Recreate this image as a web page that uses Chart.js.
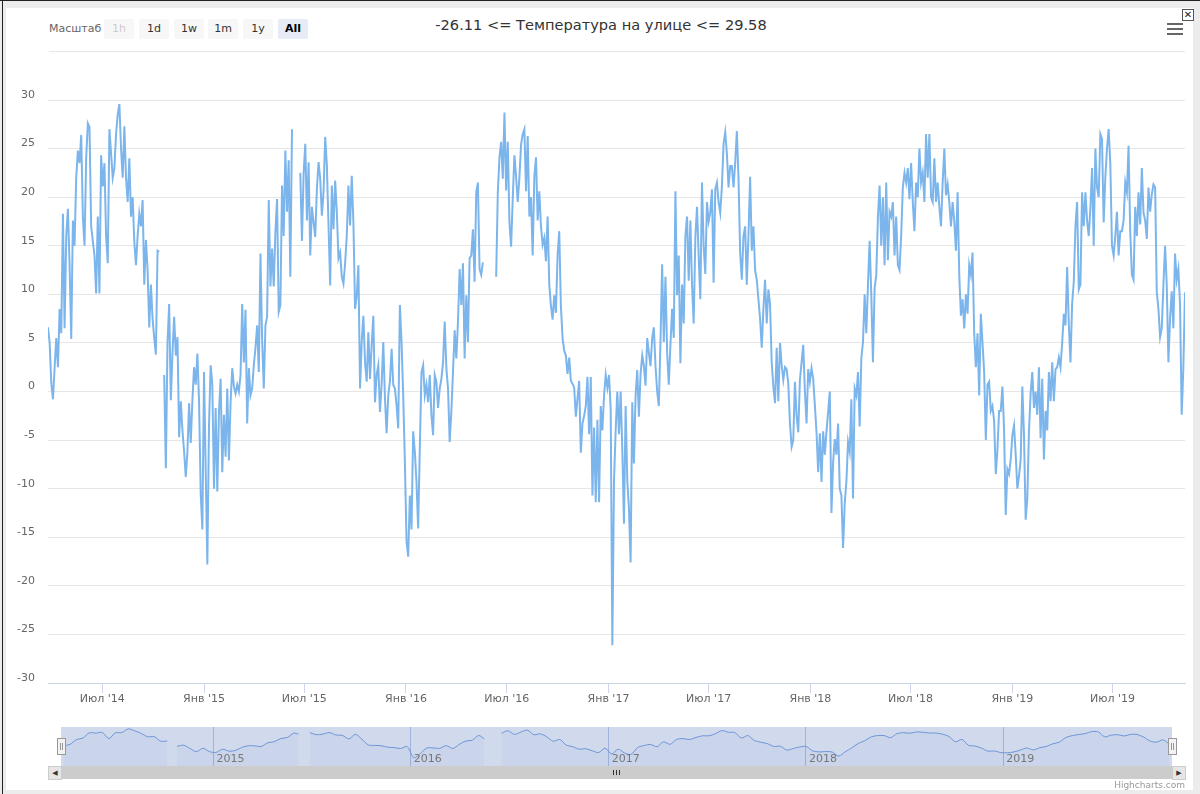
<!DOCTYPE html>
<html>
<head>
<meta charset="utf-8">
<script src="https://cdn.jsdelivr.net/npm/chart.js@4.4.1/dist/chart.umd.min.js"></script>
<style>
html, body { margin: 0; padding: 0; }
body { width: 1200px; height: 794px; background: #ececec; position: relative; overflow: hidden;
       font-family: "DejaVu Sans", Verdana, sans-serif; }
.abs { position: absolute; }
#topline { left: 0; top: 0; width: 1200px; height: 1px; background: #222; }
#leftline { left: 2px; top: 0; width: 1px; height: 794px; background: #222; }
#panel { left: 6px; top: 8px; width: 1187px; height: 782px; background: #fff; }
#zoomLabel { left: 49px; top: 22px; font-size: 11px; color: #666; }
.btn { top: 19px; width: 30px; height: 20px; line-height: 20px; text-align: center; font-size: 11px;
       background: #f7f7f7; color: #333; border-radius: 2px; }
.btn.off { color: #cccccc; }
.btn.on { background: #e6ebf5; color: #000; font-weight: bold; }
#title { left: 300px; width: 602px; top: 16px; text-align: center; font-size: 14.6px; color: #333; }
#sep { left: 49px; top: 51px; width: 1136px; height: 1px; background: #e6e6e6; }
.bar { left: 1167px; width: 16px; height: 2px; background: #666; }
#close { left: 1182px; top: 9px; width: 10px; height: 10px; border: 1px solid #555; background: #fff;
         font-size: 10px; line-height: 10px; text-align: center; color: #222; }
#mainWrap { left: 0; top: 60px; width: 1200px; height: 660px; }
#navWrap { left: 61px; top: 727px; width: 1111px; height: 39px; }
#track { left: 48px; top: 766px; width: 1137px; height: 13px; background: #f2f2f2; }
#thumb { left: 61px; top: 766px; width: 1111px; height: 13px; background: #cccccc; }
.sbtn { top: 766px; width: 12px; height: 12px; background: #e6e6e6; border: 1px solid #cccccc;
        font-size: 7px; line-height: 12px; text-align: center; color: #333; }
.rifle { top: 770px; width: 1px; height: 5px; background: #333; }
.handle { top: 738px; width: 7px; height: 15px; background: #f2f2f2; border: 1px solid #999; }
.handle i { position: absolute; top: 4px; width: 1px; height: 7px; background: #999; }
#credit { right: 15px; top: 780px; font-size: 9px; color: #999; }
</style>
</head>
<body>
<div class="abs" id="topline"></div>
<div class="abs" id="leftline"></div>
<div class="abs" id="panel"></div>
<div class="abs" id="zoomLabel">Масштаб</div>
<div class="abs btn off" style="left:104px">1h</div>
<div class="abs btn" style="left:139px">1d</div>
<div class="abs btn" style="left:174px">1w</div>
<div class="abs btn" style="left:208px">1m</div>
<div class="abs btn" style="left:243px">1y</div>
<div class="abs btn on" style="left:278px">All</div>
<div class="abs" id="title"></div>
<div class="abs" id="sep"></div>
<div class="abs bar" style="top:23px"></div>
<div class="abs bar" style="top:28px"></div>
<div class="abs bar" style="top:33px"></div>
<div class="abs" id="close">✕</div>
<div class="abs" id="mainWrap"><canvas id="grafico"></canvas></div>
<div class="abs" id="navWrap"><canvas id="navigator"></canvas></div>
<div class="abs" id="track"></div>
<div class="abs" id="thumb"></div>
<div class="abs sbtn" style="left:48px">◀</div>
<div class="abs sbtn" style="left:1172px">▶</div>
<div class="abs rifle" style="left:613px"></div>
<div class="abs rifle" style="left:616px"></div>
<div class="abs rifle" style="left:619px"></div>
<div class="abs handle" style="left:57px"><i style="left:2px"></i><i style="left:4px"></i></div>
<div class="abs handle" style="left:1168px"><i style="left:2px"></i><i style="left:4px"></i></div>
<div class="abs" id="credit">Highcharts.com</div>

<script>
// первая точка ряда - 25 марта 2014, шаг 3 дня, null = нет данных
const START = Date.UTC(2014, 2, 25);
const STEP_DAYS = 3;

const temps2014 = [6.6, 5, 0.8, -0.8, 2.5, 5.5, 2.5, 8.5, 6, 18.3, 6.5, 16, 18.8, 13, 5.4, 17.6, 15, 22, 24.8, 23.5,
  26.4, 18, 15, 24, 27.6, 27.2, 17, 15.5, 14, 10.1, 18, 10.1, 24.3, 21.1, 23.5, 16, 13.2, 27, 24.5, 22,
  23, 26.5, 28.5, 29.58, 25, 22, 27.3, 22, 19.5, 24, 18, 20, 15.4, 13, 16, 18.3, 17, 19.7, 11, 15.6,
  12.5, 6.6, 11, 7.5, 5.5, 3.8, 14.5, 14.4, null, null, 1.7, -7.9, 5, 9, -0.9, 4, 7.7, 3.7, 5.6, -4.7,
  -1, -4, -6.2, -8.8, -6.2, -1.2, -5.3, -0.9, 2.5, 0.7, 3.9, -1, -10.5, -14.2];

const temps2015 = [2, -8, -17.8, -3.5, 2.7, 0.7, -10, -1.7, -10.3, -2.1, 1.3, -8.3, -2.4, -6.7, 0.3, -7.1, -1.1, 2.4, 0.5, -0.2,
  0.7, 0, 1.7, 9, 3, 8.4, -3.3, 2.4, -0.4, 0.3, 2.7, 4.5, 6.8, 2, 14.2, 5.4, 0.3, 6.8, 7.7, 19.7,
  10.8, 14.7, 10.8, 16.4, 19.8, 8.2, 8.9, 21.2, 16, 24.8, 18.5, 23.8, 11.8, 27, null, null, null, null, 22.5, 15.5,
  22.4, 25.5, 17.6, 23.6, 14, 19, 17.4, 15.9, 20.9, 23.6, 21.9, 18.1, 20.5, 26.2, 23.3, 17.1, 10.9, 21.2, 16.7, 21.7,
  18.5, 13.7, 14.3, 11.8, 11.1, 13.2, 16, 21.2, 17.1, 22.2, 17.4, 8.5, 9.9, 13, 0.3, 5.1, 7.8, 3, 1, 6.1,
  1.3, 4.8, 7.8, -1.1, 1.7, 2.7, -2.1, 0.7, 5.1, -0.7, -4.3, -0.4, 1, 4.4, 0.7, 0.3, -1.4, -3.8, 8.9, 5.1,
  -0.4, -7.2];

const temps2016 = [-15.4, -17, -10.7, -14.2, -4.1, -6.2, -9.3, -14.1, -5.9, 2, 2.7, -0.4, 0.7, -1.1, 1.7, -2.4, -4.5, 1.7, 1, -1.7,
  0.3, 1.3, 3, 7.2, 2.4, 0.3, -5.2, -2.1, 2, 6.3, 3.4, 7.2, 12.6, 8.9, 13.2, 3.4, 9.9, 5.1, 13.7, 14,
  16.7, 11.3, 20.5, 21.5, 12.6, 12, 13.3, null, null, null, null, null, null, null, 11.8, 20.5, 24.1, 25.7, 21.9, 28.7,
  20.7, 25.7, 17.4, 14.9, 19.9, 24.3, 22.1, 19.5, 22, 25.4, 26.5, 27, 20.6, 26.3, 18, 20, 14, 22.1, 24.1, 17.6,
  20.6, 17, 15.1, 15.8, 13.4, 18, 11, 8.8, 7.4, 9.9, 8.1, 14, 16.5, 8.8, 5.5, 4.2, 3.7, 1.8, 3.5, 1.1,
  0.8, 0.4, -2.6, -0.7, 1.1, -6.3, -3.3, -2.5, -1.5, 1.5, -4.4, 1.5, -10.7, -3.7, -11.4, -2.9, -11.4, -1.5, -4, -0.4,
  1.7, 0.4];

const temps2017 = [1.7, -1.8, -26.11, -9.2, -4, 0, -4.4, 0, -6, -13.6, -1.5, -9.2, -12, -17.6, -1.1, -7.4, -0.4, 2.2, -2.6, 1.8,
  3.7, 2.6, 0.6, 5.5, 4, 2.6, 5.5, 6.6, 2.6, 0, -1.5, 5.1, 13.1, 5.1, 11.8, 4, 0.7, 4.8, 8.5, 5.5,
  20.6, 9.9, 14, 2.9, 11, 7, 16, 18, 11.4, 17.6, 11, 7, 15.8, 19, 14, 9.5, 21.5, 15, 12.1, 19.5,
  17.5, 18.4, 20.8, 11.2, 20.8, 21.5, 19.5, 18.4, 21.1, 25.5, 26.7, 24.5, 21, 23.2, 23.2, 21, 23.5, 26.8, 22, 14.3,
  11.5, 16, 17, 11, 16, 22.1, 14.5, 17, 12.5, 11.5, 9.5, 7.5, 4.5, 8.5, 11.5, 7, 10.5, 9, 3, 0.5,
  -1.2, 4.5, -1, 5, 2.7, 1.2, 2.5, 2.3, 0.8, -3.3, -5.7, -5, 1, -2.5, -4.2, 1.2, 3, 4.8, 0, -3.3,
  2.3, 1];

const temps2018 = [2.4, 1.3, -1.4, -4.2, -8.3, -4.3, -9.3, -4.1, -6.5, -4.1, -2.1, 0, -12.5, -7.3, -4.9, -6.5, -3.3, -10, -10.7, -16.1,
  -11.5, -9.3, -5.2, -6.2, -0.8, -11, 0.3, -0.4, 2, -3.6, 3.4, 5.1, 10, 6, 11, 15.5, 10, 3, 10.6, 12,
  18, 21.2, 15, 20, 13, 21.5, 13.5, 18.5, 18, 19.5, 14, 18, 13, 12.5, 16, 21, 22.5, 21.5, 23, 19.8,
  23.5, 19.5, 16.5, 21.5, 20, 25, 21.5, 22.5, 19.5, 26.5, 22, 26.5, 20, 19.5, 24, 19.5, 21.5, 19, 17, 21.5,
  25, 20.2, 21.3, 19.5, 17, 19.5, 17.5, 14.5, 20.5, 12, 7.8, 9.5, 6.5, 10, 8, 13, 12, 14.3, 6, 2.5,
  6, -0.4, 8, 5, 2, -5, 0.7, 1, -2, -1.5, -3, -8.5, -6, -2, -2, 0.5, -4, -12.7, -8, -8.5,
  -7];

const temps2019 = [-4.5, -3.5, -6.5, -10, -8.7, -7, 0.5, -4.5, -13.2, -11, -4.1, -0.2, 2, -1.7, 0, -2.4, 2.5, -4.8, 1.3, -7,
  -2, -4, 2, -1, 3, -1, 2.3, 2.5, 3.5, 2.5, 5, 8, 6.8, 12.8, 7, 3, 9, 11.3, 17, 19.5,
  10.5, 11, 20.5, 17, 20.5, 17.6, 16, 18.8, 23, 15, 25, 21, 20, 26.5, 26, 17.4, 22, 25, 27, 23.5,
  15, 14, 16, 18.5, 14, 16.5, 16.5, 17.6, 21.5, 20.5, 25.3, 16.5, 12, 11.5, 19, 16, 20.5, 17.2, 23, 18.4,
  17.6, 15.7, 21, 18.5, 20.3, 21.3, 21, 10.2, 8.5, 5.6, 6.5, 11, 15, 11, 3, 7.5, 10.3, 6.5, 14.2, 11.5,
  12.6, 9, -2.4, 2.4, 10.2];

const monthNames = ['Янв', 'Фев', 'Мар', 'Апр', 'Май', 'Июн', 'Июл', 'Авг', 'Сен', 'Окт', 'Ноя', 'Дек'];
const years = [2014, 2015, 2016, 2017, 2018, 2019];

const FONT = '"DejaVu Sans", Verdana, sans-serif';

function dayOf(y, m, d) {
    return Math.round((Date.UTC(y, m, d) - START) / 864e5);
}

const temps = [].concat(temps2014, temps2015, temps2016, temps2017, temps2018, temps2019);
const points = temps.map((v, i) => ({ x: i * STEP_DAYS, y: v }));
const lastDay = (temps.length - 1) * STEP_DAYS;
const known = temps.filter(v => v !== null);
const tMin = Math.min(...known);
const tMax = Math.max(...known);

document.getElementById('title').textContent = tMin.toFixed(2) + ' <= Температура на улице <= ' + tMax.toFixed(2);

// метки оси X: январь и июль каждого года
const xTicks = [];
years.forEach(y => {
    [0, 6].forEach(m => {
        const d = dayOf(y, m, 1);
        if (d >= 0 && d <= lastDay) xTicks.push({ value: d, label: monthNames[m] + " '" + String(y).slice(2) });
    });
});

// навигатор: среднее по группам внутри непрерывных кусков, разрывы сохраняются
const NAV_GROUP = 4;
const navPoints = [];
let run = [];
function flushRun() {
    for (let j = 0; j < run.length; j += NAV_GROUP) {
        const chunk = run.slice(j, j + NAV_GROUP);
        navPoints.push({
            x: chunk.reduce((a, p) => a + p.x, 0) / chunk.length,
            y: chunk.reduce((a, p) => a + p.y, 0) / chunk.length
        });
    }
    run = [];
}
points.forEach(p => {
    if (p.y === null) {
        if (run.length) { flushRun(); navPoints.push({ x: p.x, y: null }); }
    } else {
        run.push(p);
    }
});
flushRun();

const yearTicks = years.slice(1).map(y => ({ value: dayOf(y, 0, 1), label: String(y) }));

const grafico = new Chart(document.getElementById('grafico'), {
    type: 'line',
    data: {
        datasets: [{
            label: 'Температура на улице',
            data: points,
            borderColor: '#7cb5ec',
            borderWidth: 2,
            pointRadius: 0,
            tension: 0,
            spanGaps: false,
            fill: false
        }]
    },
    options: {
        animation: false,
        responsive: true,
        maintainAspectRatio: false,
        parsing: false,
        layout: { padding: { top: 40, right: 15, left: 0, bottom: 0 } },
        plugins: { legend: { display: false }, tooltip: { enabled: false } },
        scales: {
            x: {
                type: 'linear',
                min: 0,
                max: lastDay,
                afterBuildTicks: s => { s.ticks = xTicks.map(t => ({ value: t.value })); },
                afterFit: s => { s.height = 37; },
                ticks: {
                    autoSkip: false,
                    maxRotation: 0,
                    padding: 0,
                    color: '#666',
                    font: { size: 11, family: FONT },
                    callback: v => { const t = xTicks.find(t => t.value === v); return t ? t.label : ''; }
                },
                grid: { drawOnChartArea: false, drawTicks: true, tickLength: 10, color: '#ccd6eb' },
                border: { color: '#ccd6eb' }
            },
            y: {
                min: -30,
                max: 30,
                afterFit: s => { s.width = 48; },
                ticks: {
                    stepSize: 5,
                    padding: 13,
                    labelOffset: -5,
                    color: '#666',
                    font: { size: 11, family: FONT }
                },
                grid: { color: '#e6e6e6', drawTicks: false },
                border: { display: false }
            }
        }
    }
});

const navigatorPlugin = {
    id: 'navigatorExtras',
    afterDatasetsDraw(chart) {
        const { ctx, chartArea: a } = chart;
        ctx.save();
        ctx.fillStyle = 'rgba(102,133,194,0.3)';
        ctx.fillRect(a.left, a.top, a.right - a.left, a.bottom - a.top);
        ctx.fillStyle = '#777';
        ctx.font = '11px ' + FONT;
        ctx.textBaseline = 'alphabetic';
        yearTicks.forEach(t => {
            const px = chart.scales.x.getPixelForValue(t.value);
            ctx.fillText(t.label, px + 3, a.bottom - 4);
        });
        ctx.restore();
    }
};

const navigator = new Chart(document.getElementById('navigator'), {
    type: 'line',
    data: {
        datasets: [{
            data: navPoints,
            borderColor: '#6f9be0',
            borderWidth: 1,
            backgroundColor: 'rgba(51,92,173,0.05)',
            fill: 'start',
            pointRadius: 0,
            tension: 0.3,
            spanGaps: false
        }]
    },
    options: {
        animation: false,
        responsive: true,
        maintainAspectRatio: false,
        parsing: false,
        layout: { padding: 0 },
        plugins: { legend: { display: false }, tooltip: { enabled: false } },
        scales: {
            x: {
                type: 'linear',
                min: 0,
                max: lastDay,
                afterBuildTicks: s => { s.ticks = yearTicks.map(t => ({ value: t.value })); },
                afterFit: s => { s.height = 0; },
                ticks: { display: false },
                grid: { drawTicks: false, color: 'rgba(102,133,194,0.45)' },
                border: { display: false }
            },
            y: { display: false, min: tMin, max: tMax }
        }
    },
    plugins: [navigatorPlugin]
});
</script>
</body>
</html>
